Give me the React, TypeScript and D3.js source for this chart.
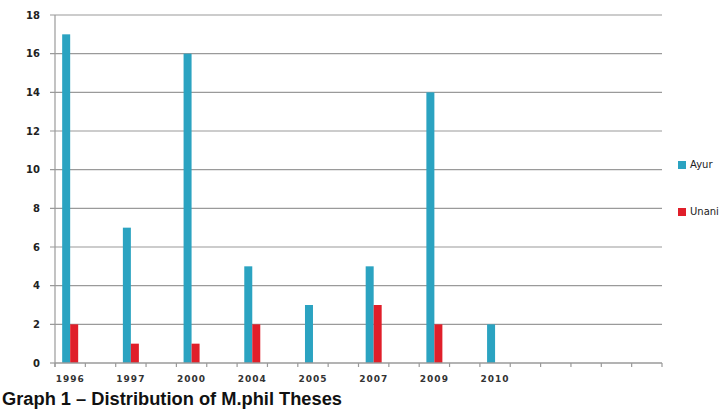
import React, { useEffect, useRef } from 'react';
import * as d3 from 'd3';

const years = ['1996', '1997', '2000', '2004', '2005', '2007', '2009', '2010'];
const ayur = [17, 7, 16, 5, 3, 5, 14, 2];
const unani = [2, 1, 1, 2, 0, 3, 2, 0];
const yTicks = [0, 2, 4, 6, 8, 10, 12, 14, 16, 18];
const seriesNames = ['Ayur', 'Unani'];
const seriesColors = ['#2ba3c1', '#e01f2a'];

const App: React.FC = () => {
  const svgRef = useRef<SVGSVGElement>(null);

  useEffect(() => {
    if (!svgRef.current) return;
    const width = 725;
    const height = 412;
    const svg = d3.select(svgRef.current);
    svg.selectAll('*').remove();
    svg.attr('width', width).attr('height', height);

    const left = 55, right = 662, top = 15, bottom = 363;

    // 20 slots, every other one carries a year
    const slots = d3.range(20);
    const x = d3.scaleBand<number>().domain(slots).range([left, right]);
    const y = d3.scaleLinear().domain([0, 18]).range([bottom, top]);
    const barW = 8;

    // gridlines
    svg.append('g')
      .selectAll('line')
      .data(yTicks.filter(d => d > 0))
      .join('line')
      .attr('x1', left - 5)
      .attr('x2', right)
      .attr('y1', d => y(d))
      .attr('y2', d => y(d))
      .attr('stroke', '#9a9a9a')
      .attr('stroke-width', 1.2);

    // y axis
    svg.append('line')
      .attr('x1', left).attr('x2', left)
      .attr('y1', top).attr('y2', bottom + 4)
      .attr('stroke', '#9a9a9a').attr('stroke-width', 1.2);
    svg.append('line')
      .attr('x1', left - 5).attr('x2', left)
      .attr('y1', bottom).attr('y2', bottom)
      .attr('stroke', '#9a9a9a').attr('stroke-width', 1.2);

    svg.append('g')
      .selectAll('text')
      .data(yTicks)
      .join('text')
      .attr('x', 40)
      .attr('y', d => y(d))
      .attr('dy', '0.35em')
      .attr('text-anchor', 'end')
      .attr('font-family', 'DejaVu Sans, sans-serif')
      .attr('font-size', 10)
      .attr('font-weight', 'bold')
      .attr('fill', '#222')
      .text(d => d);

    // bars
    const groups = svg.append('g')
      .selectAll('g')
      .data(years.map((yr, i) => ({ yr, slot: i * 2, vals: [ayur[i], unani[i]] })))
      .join('g')
      .attr('transform', d => `translate(${(x(d.slot) as number) + x.bandwidth() / 2 - barW},0)`);

    groups.selectAll('rect')
      .data(d => d.vals.map((v, j) => ({ v, j })))
      .join('rect')
      .attr('x', d => d.j * barW)
      .attr('width', barW)
      .attr('y', d => y(d.v))
      .attr('height', d => y(0) - y(d.v))
      .attr('fill', d => seriesColors[d.j]);

    // x axis
    svg.append('line')
      .attr('x1', left).attr('x2', right)
      .attr('y1', bottom).attr('y2', bottom)
      .attr('stroke', '#9a9a9a').attr('stroke-width', 1.5);
    const tickPos = slots.map(s => x(s) as number).concat([right]);
    svg.append('g')
      .selectAll('line')
      .data(tickPos)
      .join('line')
      .attr('x1', d => d).attr('x2', d => d)
      .attr('y1', bottom).attr('y2', bottom + 4)
      .attr('stroke', '#9a9a9a').attr('stroke-width', 1.2);

    groups.append('text')
      .attr('x', barW)
      .attr('y', bottom + 19)
      .attr('text-anchor', 'middle')
      .attr('font-family', 'DejaVu Sans, sans-serif')
      .attr('font-size', 9)
      .attr('font-weight', 'bold')
      .attr('letter-spacing', 1)
      .attr('fill', '#333')
      .text(d => d.yr);

    // legend
    const legend = svg.append('g')
      .selectAll('g')
      .data(seriesNames)
      .join('g')
      .attr('transform', (d, i) => `translate(678,${161 + i * 47})`);
    legend.append('rect')
      .attr('width', 8).attr('height', 8)
      .attr('fill', (d, i) => seriesColors[i]);
    legend.append('text')
      .attr('x', 12)
      .attr('y', 3)
      .attr('dy', '0.35em')
      .attr('font-family', 'DejaVu Sans, sans-serif')
      .attr('font-size', 10)
      .attr('fill', '#222')
      .text(d => d);

    // caption
    svg.append('text')
      .attr('x', 2)
      .attr('y', 405)
      .attr('font-family', 'Liberation Sans, Arial, sans-serif')
      .attr('font-size', 18)
      .attr('font-weight', 'bold')
      .attr('fill', '#111')
      .attr('textLength', 340)
      .attr('lengthAdjust', 'spacingAndGlyphs')
      .text('Graph 1 – Distribution of M.phil Theses');
  }, []);

  return (
    <svg
      ref={svgRef}
      style={{ position: 'absolute', left: 0, top: 0, background: '#fff' }}
    />
  );
};

export default App;
